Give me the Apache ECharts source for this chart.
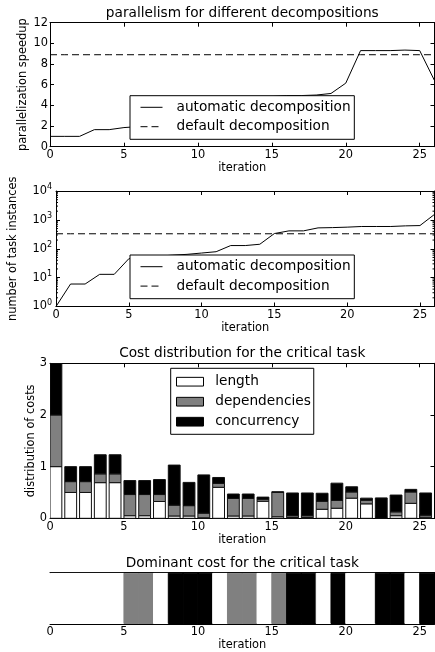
<!DOCTYPE html>
<html><head><meta charset="utf-8">
<script src="https://cdn.jsdelivr.net/npm/echarts@6/dist/echarts.min.js"></script>
<style>html,body{margin:0;padding:0;background:#fff}#c{width:435px;height:652px}</style>
</head><body><div id="c"></div>
<script>
// ---- data ----
const iterations = [0,1,2,3,4,5,6,7,8,9,10,11,12,13,14,15,16,17,18,19,20,21,22,23,24,25,26];
const speedupAuto = [1.0,1.0,1.0,1.65,1.65,1.85,1.95,2.1,2.3,2.5,2.7,2.9,3.5,3.7,3.9,4.85,4.95,4.95,5.0,5.15,6.15,9.3,9.3,9.3,9.35,9.3,6.4];
const speedupDefault = 8.9;
const tasksAuto = [1,6,6,13,13,45,50,55,60,64,71,79,129,129,143,336,416,416,528,540,560,590,590,590,620,635,1550];
const tasksDefault = 330;
const barIterations = [0,1,2,3,4,5,6,7,8,9,10,11,12,13,14,15,16,17,18,19,20,21,22,23,24,25];
const costLength =       [1.0,0.50,0.50,0.69,0.69,0.05,0.05,0.325,0.045,0.045,0.01,0.60,0.045,0.045,0.33,0.03,0.015,0.015,0.175,0.195,0.39,0.28,0.0,0.05,0.29,0.02];
const costDependencies = [1.0,0.21,0.21,0.17,0.17,0.41,0.41,0.135,0.21,0.20,0.09,0.075,0.34,0.34,0.04,0.47,0.035,0.035,0.155,0.15,0.12,0.07,0.0,0.075,0.22,0.04];
const costConcurrency =  [1.0,0.29,0.29,0.37,0.37,0.27,0.27,0.29,0.775,0.45,0.74,0.115,0.085,0.085,0.04,0.015,0.44,0.44,0.155,0.335,0.10,0.04,0.395,0.325,0.05,0.43];
const dominantCost = ['length','length','length','length','length','dependencies','dependencies','length','concurrency','concurrency','concurrency','length','dependencies','dependencies','length','dependencies','concurrency','concurrency','length','concurrency','length','length','concurrency','concurrency','length','concurrency'];
const costNames = ['length','dependencies','concurrency'];
const xTicks = [0,5,10,15,20,25];
const speedTicks = [0,2,4,6,8,10,12];
const costTicks = [0,1,2,3];

// ---- style ----
const FONT = 'DejaVu Sans';
const costColors = {length:'#ffffff', dependencies:'#808080', concurrency:'#000000'};
const BAR_W = 0.8;
const DASH = [7,4];
const blk = {color:'#000', width:1};
const tickStyle = {inside:true, length:4, lineStyle:blk};
const grids = [
  {left:50, top:22.7, width:384.5, height:124},
  {left:50, top:191, width:384.5, height:115.5},
  {left:50, top:363.3, width:384.5, height:155},
  {left:50, top:572.7, width:384.5, height:51.6}
];
const labelStyle = {fontFamily:FONT, fontSize:11.4, color:'#000'};

function xAxes(gi) {
  const base = {type:'value', gridIndex:gi, min:0, max:26, interval:xTicks[1]-xTicks[0],
    axisLine:{show:true, onZero:false, lineStyle:blk}, axisTick:tickStyle, splitLine:{show:false}};
  return [
    Object.assign({}, base, {position:'bottom', name:'iteration', nameLocation:'middle', nameGap:16,
      nameTextStyle:labelStyle, axisLabel:Object.assign({showMaxLabel:false, margin:3}, labelStyle)}),
    Object.assign({}, base, {position:'top', axisLabel:{show:false}})
  ];
}
function yAxes(gi, cfg) {
  const base = Object.assign({gridIndex:gi, axisLine:{show:true, onZero:false, lineStyle:blk},
    axisTick:cfg.noTicks ? {show:false} : tickStyle, splitLine:{show:false}}, cfg.axis);
  return [
    Object.assign({}, base, {position:'left', name:cfg.name || '', nameLocation:'middle', nameGap:cfg.nameGap || 20,
      nameMoveOverlap:false,
      nameTextStyle:labelStyle, axisLabel:cfg.noLabels ? {show:false} : Object.assign({margin:cfg.margin||2}, labelStyle, cfg.label || {})}),
    Object.assign({}, base, {position:'right', axisLabel:{show:false}})
  ];
}

const xAxis = [].concat(xAxes(0), xAxes(1), xAxes(2), xAxes(3));
const yAxis = [].concat(
  yAxes(0, {axis:{type:'value', min:speedTicks[0], max:speedTicks[speedTicks.length-1], interval:speedTicks[1]-speedTicks[0]},
    name:'parallelization speedup', nameGap:21.3, margin:2}),
  yAxes(1, {axis:{type:'log', logBase:10, min:1, max:10000}, name:'number of task instances', nameGap:37, margin:4,
    label:{formatter:v => '{b|10}{s|' + Math.round(Math.log10(v)) + '}',
      rich:{b:{fontFamily:FONT, fontSize:11.4, color:'#000'}, s:{fontFamily:FONT, fontSize:8, color:'#000', padding:[0,0,8,0]}}}}),
  yAxes(2, {axis:{type:'value', min:costTicks[0], max:costTicks[costTicks.length-1], interval:costTicks[1]-costTicks[0]},
    name:'distribution of costs', nameGap:13.3, margin:3}),
  yAxes(3, {axis:{type:'value', min:0, max:1}, noTicks:true, noLabels:true})
);

// minor ticks of log axis (2..9 x 10^k)
const minorTickVals = [];
for (let k = 0; k < 4; k++) for (let m = 2; m <= 9; m++) minorTickVals.push([0, m * Math.pow(10, k)]);

function barRender(params, api) {
  const x0 = api.value(0), y0 = api.value(1), y1 = api.value(2);
  const p0 = api.coord([x0, y0]);
  const p1 = api.coord([x0 + BAR_W, y1]);
  return {type:'rect', shape:{x:p0[0], y:p1[1], width:p1[0]-p0[0], height:p0[1]-p1[1]},
    style:{fill:api.visual('color'), stroke:'#111', lineWidth:1}};
}
const cum1 = costLength.map((v,i) => v + costDependencies[i]);
const cum2 = cum1.map((v,i) => v + costConcurrency[i]);
const stackData = [
  barIterations.map(i => [i, 0, costLength[i]]),
  barIterations.map(i => [i, costLength[i], cum1[i]]),
  barIterations.map(i => [i, cum1[i], cum2[i]])
];

const series = [
  {name:'automatic decomposition', type:'line', xAxisIndex:0, yAxisIndex:0, symbol:'none', showSymbol:false,
    data:iterations.map((x,i) => [x, speedupAuto[i]]), lineStyle:{color:'#000', width:1}, itemStyle:{color:'#000'}},
  {name:'default decomposition', type:'line', xAxisIndex:0, yAxisIndex:0, symbol:'none', showSymbol:false,
    data:iterations.map(x => [x, speedupDefault]), lineStyle:{color:'#000', width:1, type:DASH}, itemStyle:{color:'#000'}},
  {name:'automatic decomposition', type:'line', xAxisIndex:2, yAxisIndex:2, symbol:'none', showSymbol:false,
    data:iterations.map((x,i) => [x, tasksAuto[i]]), lineStyle:{color:'#000', width:1}, itemStyle:{color:'#000'}},
  {name:'default decomposition', type:'line', xAxisIndex:2, yAxisIndex:2, symbol:'none', showSymbol:false,
    data:iterations.map(x => [x, tasksDefault]), lineStyle:{color:'#000', width:1, type:DASH}, itemStyle:{color:'#000'}},
  {type:'custom', xAxisIndex:2, yAxisIndex:2, silent:true, data:minorTickVals, encode:{x:0, y:1},
    renderItem:(params, api) => {
      const v = api.value(1);
      const l = api.coord([0, v]), r = api.coord([26, v]);
      return {type:'group', children:[
        {type:'line', shape:{x1:l[0], y1:l[1], x2:l[0]+2, y2:l[1]}, style:{stroke:'#000', lineWidth:1}},
        {type:'line', shape:{x1:r[0]-2, y1:r[1], x2:r[0], y2:r[1]}, style:{stroke:'#000', lineWidth:1}}
      ]};
    }}
].concat(costNames.map((n, k) => ({
  name:n, type:'custom', xAxisIndex:4, yAxisIndex:4, clip:true, data:stackData[k], encode:{x:0, y:[1,2]},
  itemStyle:{color:costColors[n], borderColor:'#000', borderWidth:1}, renderItem:barRender
}))).concat([{
  type:'custom', xAxisIndex:6, yAxisIndex:6, clip:true, silent:true,
  data:barIterations.map(i => [i, costNames.indexOf(dominantCost[i])]), encode:{x:0},
  renderItem:(params, api) => {
    const i = api.value(0);
    const p0 = api.coord([i, 0]), p1 = api.coord([i + 1, 1]);
    const c = costColors[costNames[api.value(1)]];
    return {type:'rect', shape:{x:p0[0], y:p1[1] + 0.5, width:p1[0]-p0[0], height:p0[1]-p1[1] - 1},
      style:{fill:c, stroke:c, lineWidth:1}};
  }
}]);

const titleStyle = {fontFamily:FONT, fontSize:13.7, fontWeight:'normal', color:'#000'};
const legendText = {fontFamily:FONT, fontSize:13.7, color:'#000', lineHeight:14, padding:[0,0,0,9]};
const lineLegendCommon = {orient:'vertical', selectedMode:false, data:['automatic decomposition','default decomposition'],
  itemWidth:22, itemHeight:14, itemGap:5.4, borderColor:'#000', borderWidth:1,
  backgroundColor:'#fff', borderRadius:0, textStyle:legendText, itemStyle:{opacity:0},
  lineStyle:{width:1, color:'#000'}, z:10};
const option = {
  animation:false,
  backgroundColor:'#fff',
  title:[
    {text:'parallelism for different decompositions', left:242.25, top:6, textAlign:'center', textStyle:titleStyle, padding:0},
    {text:'Cost distribution for the critical task', left:242.25, top:346, textAlign:'center', textStyle:titleStyle, padding:0},
    {text:'Dominant cost for the critical task', left:242.25, top:556, textAlign:'center', textStyle:titleStyle, padding:0}
  ],
  grid:grids,
  xAxis:xAxis,
  yAxis:yAxis,
  legend:[
    Object.assign({}, lineLegendCommon, {left:130, top:95.7, padding:[4.6,3.7,5.6,10]}),
    Object.assign({}, lineLegendCommon, {left:130, top:255, padding:[4.7,3.7,5.6,10]}),
    {left:170.7, top:368.3, orient:'vertical', selectedMode:false,
      data:costNames.map(n => ({name:n, icon:'rect', itemStyle:{color:costColors[n], borderColor:'#000', borderWidth:1}})),
      itemWidth:27, itemHeight:8.7, itemGap:6, padding:[6.4,3,5.6,5.3], borderColor:'#000', borderWidth:1,
      backgroundColor:'#fff', borderRadius:0, textStyle:Object.assign({}, legendText, {padding:[0,0,0,6.7]}), z:10}
  ],
  series:series
};
const chart = echarts.init(document.getElementById('c'), null, {renderer:'canvas'});
chart.setOption(option);
</script></body></html>
